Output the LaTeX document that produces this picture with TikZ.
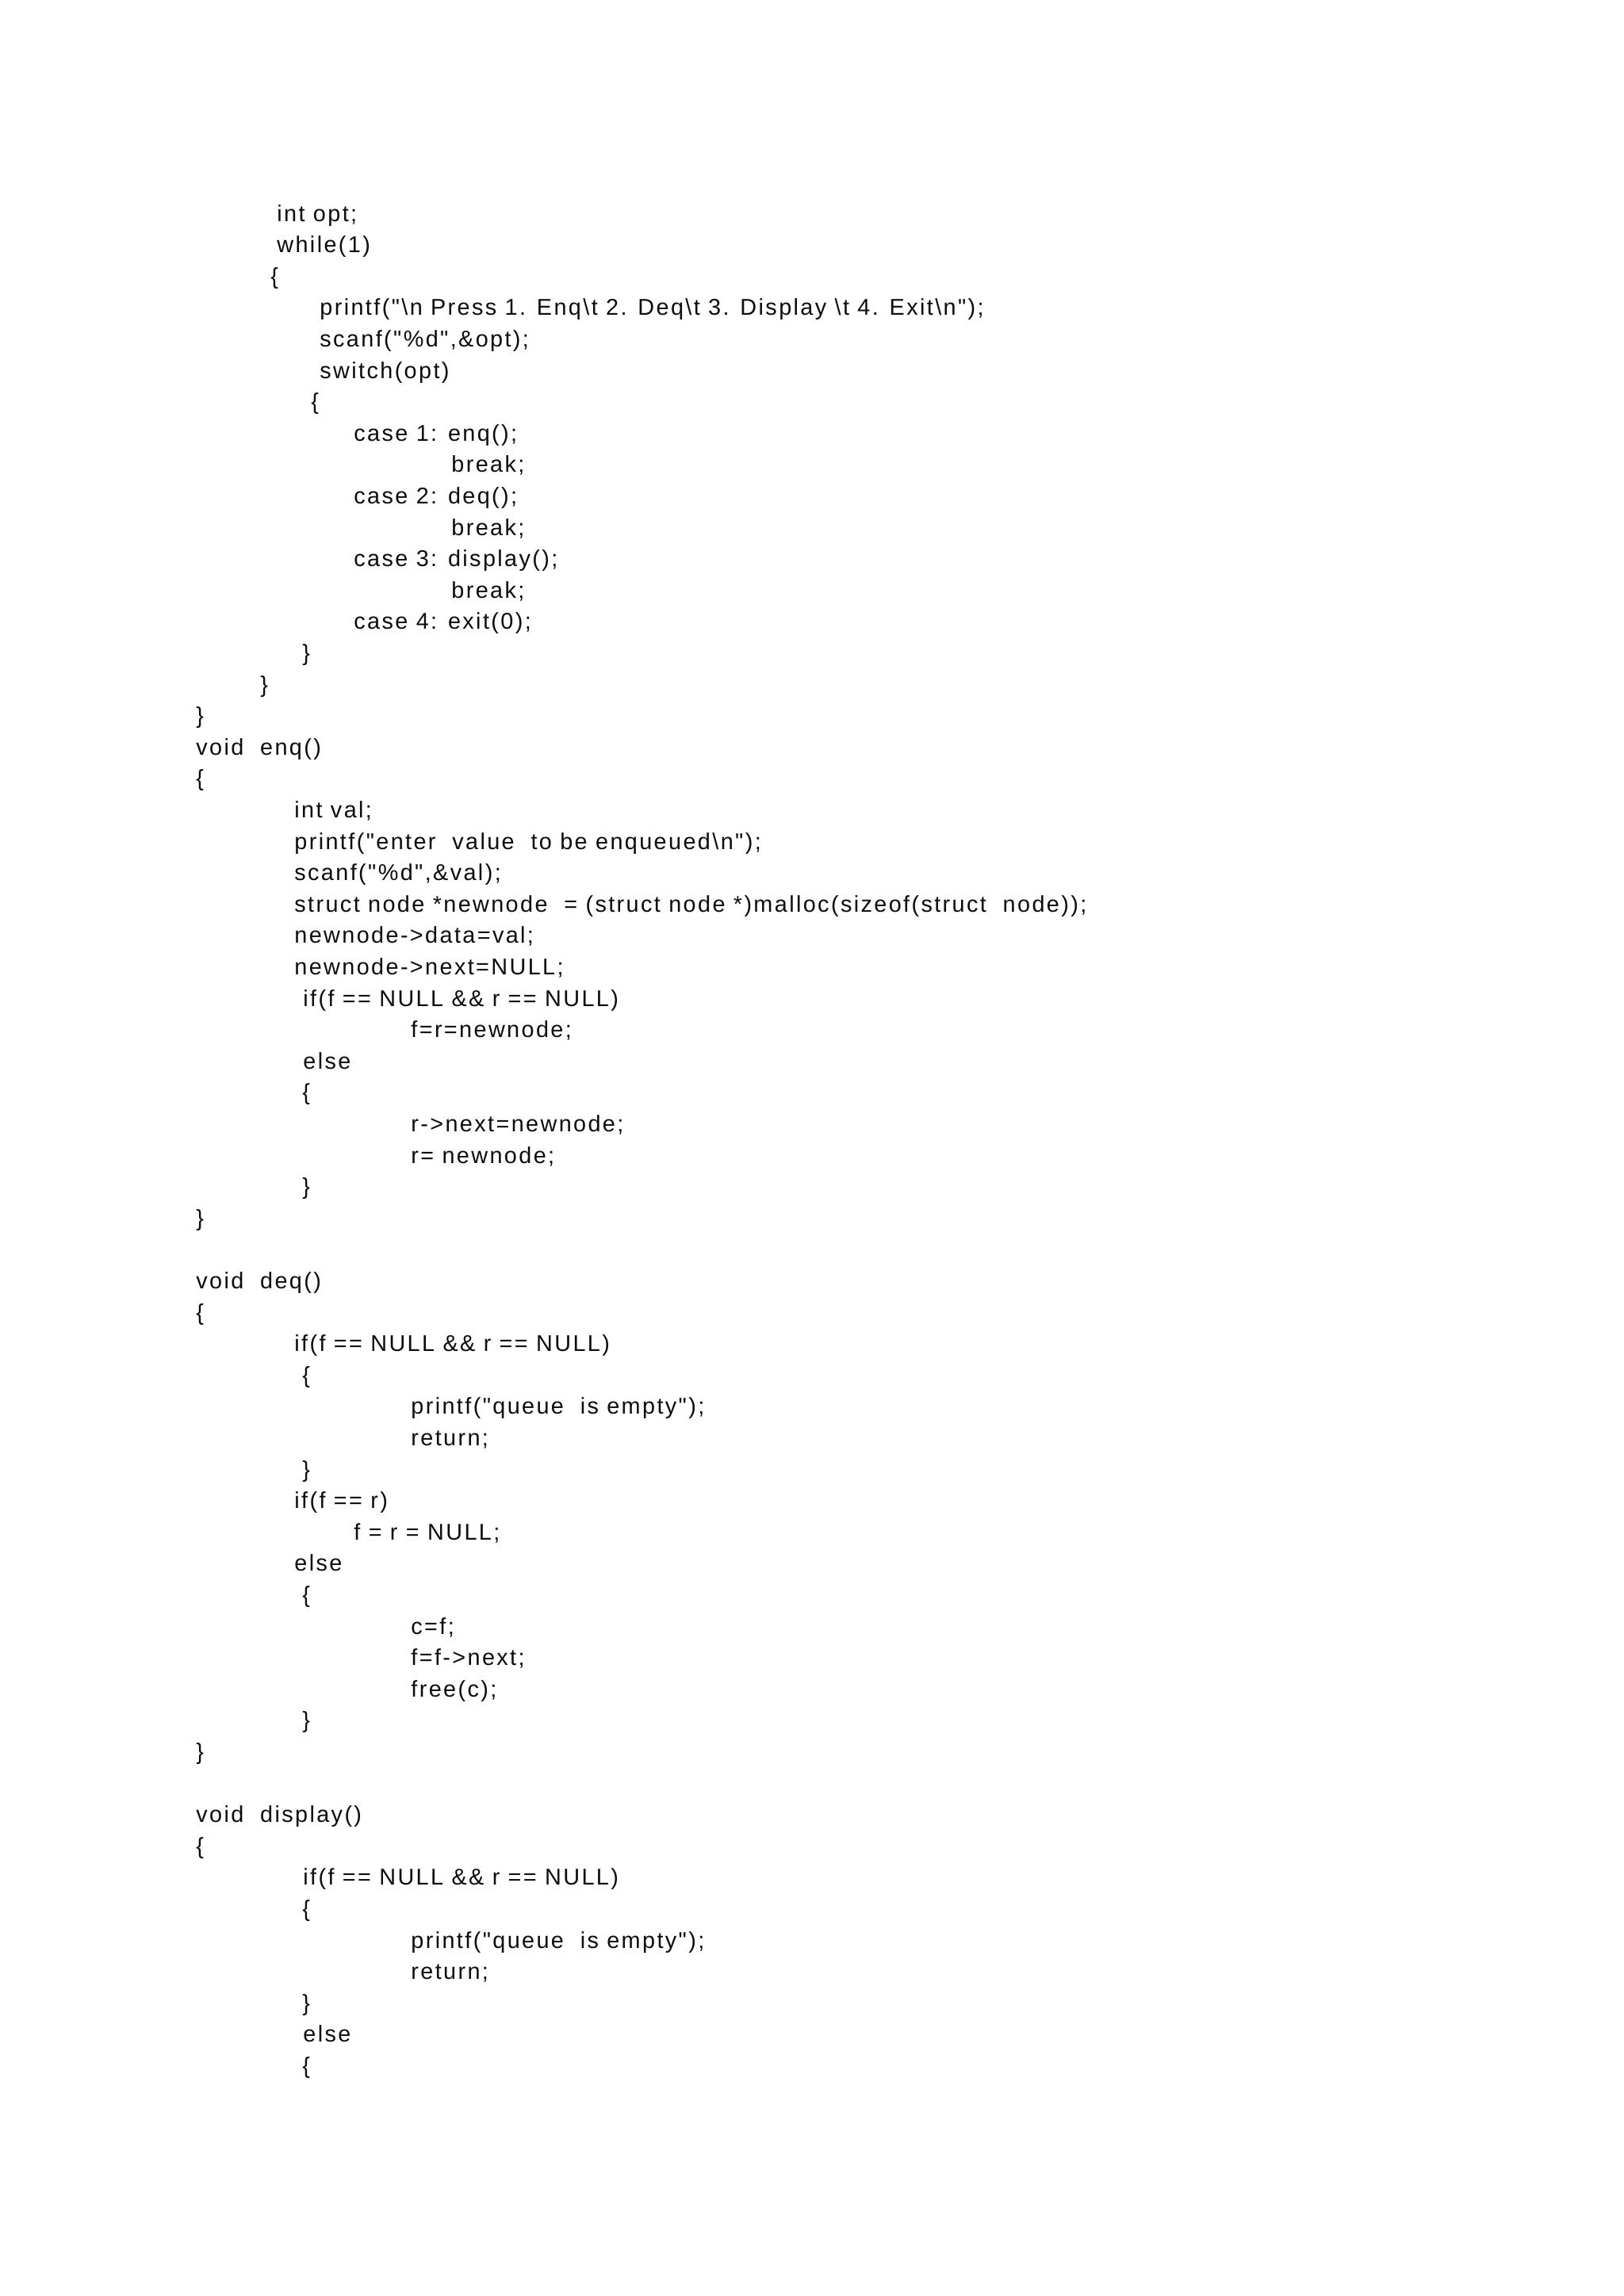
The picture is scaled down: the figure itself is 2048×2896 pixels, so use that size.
\documentclass[tikz,border=0pt]{standalone}
\usepackage{fontspec}
\setmainfont{Liberation Sans}
\newfontfamily\codefont[LetterSpace=8.3]{Liberation Sans}
\tikzset{code/.style={anchor=base west, inner sep=0pt, font=\codefont\fontsize{14.4pt}{16pt}\selectfont, text=black!95}}
\newcommand\bs{\textbackslash}
\newcommand\cl[4]{\node[code] (#1) at ({#3-3},{279+#2*39.6}) {#4};}
\begin{document}
\begin{tikzpicture}[x=0.5pt,y=-0.5pt]
\useasboundingbox[fill=white] (0,0) rectangle (2048,2896);
\cl{l0}{0}{352}{int opt;}
\cl{l1}{1}{352}{while(1)}
\cl{l2}{2}{344}{\{}
\cl{l3}{3}{406}{printf("\bs n Press 1. Enq\bs t 2. Deq\bs t 3. Display \bs t 4. Exit\bs n");}
\cl{l4}{4}{406}{scanf("\%d",\&opt);}
\cl{l5}{5}{406}{switch(opt)}
\cl{l6}{6}{395}{\{}
\cl{l7}{7}{449}{case 1: enq();}
\cl{l8}{8}{572}{break;}
\cl{l9}{9}{449}{case 2: deq();}
\cl{l10}{10}{572}{break;}
\cl{l11}{11}{449}{case 3: display();}
\cl{l12}{12}{572}{break;}
\cl{l13}{13}{449}{case 4: exit(0);}
\cl{l14}{14}{384}{\}}
\cl{l15}{15}{331}{\}}
\cl{l16}{16}{250}{\}}
\cl{l17}{17}{250}{void~ enq()}
\cl{l18}{18}{250}{\{}
\cl{l19}{19}{374}{int val;}
\cl{l20}{20}{374}{printf("enter~ value~ to be enqueued\bs n");}
\cl{l21}{21}{374}{scanf("\%d",\&val);}
\cl{l22}{22}{374}{struct node *newnode~ = (struct node *)malloc(sizeof(struct~ node));}
\cl{l23}{23}{374}{newnode->data=val;}
\cl{l24}{24}{374}{newnode->next=NULL;}
\cl{l25}{25}{385}{if(f == NULL \&\& r == NULL)}
\cl{l26}{26}{521}{f=r=newnode;}
\cl{l27}{27}{385}{else}
\cl{l28}{28}{384}{\{}
\cl{l29}{29}{521}{r->next=newnode;}
\cl{l30}{30}{521}{r= newnode;}
\cl{l31}{31}{384}{\}}
\cl{l32}{32}{250}{\}}
\cl{l34}{34}{250}{void~ deq()}
\cl{l35}{35}{250}{\{}
\cl{l36}{36}{374}{if(f == NULL \&\& r == NULL)}
\cl{l37}{37}{384}{\{}
\cl{l38}{38}{521}{printf("queue~ is empty");}
\cl{l39}{39}{521}{return;}
\cl{l40}{40}{384}{\}}
\cl{l41}{41}{374}{if(f == r)}
\cl{l42}{42}{449}{f = r = NULL;}
\cl{l43}{43}{374}{else}
\cl{l44}{44}{384}{\{}
\cl{l45}{45}{521}{c=f;}
\cl{l46}{46}{521}{f=f->next;}
\cl{l47}{47}{521}{free(c);}
\cl{l48}{48}{384}{\}}
\cl{l49}{49}{250}{\}}
\cl{l51}{51}{250}{void~ display()}
\cl{l52}{52}{250}{\{}
\cl{l53}{53}{385}{if(f == NULL \&\& r == NULL)}
\cl{l54}{54}{384}{\{}
\cl{l55}{55}{521}{printf("queue~ is empty");}
\cl{l56}{56}{521}{return;}
\cl{l57}{57}{384}{\}}
\cl{l58}{58}{385}{else}
\cl{l59}{59}{384}{\{}
\end{tikzpicture}
\end{document}
